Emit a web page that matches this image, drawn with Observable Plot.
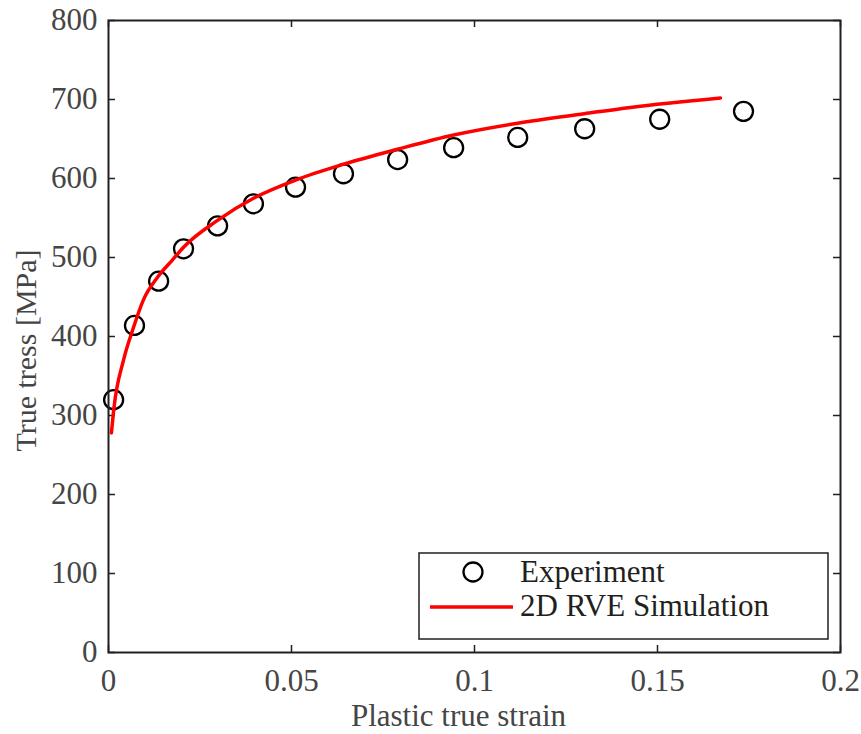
<!DOCTYPE html>
<html>
<head>
<meta charset="utf-8">
<script src="https://cdn.jsdelivr.net/npm/d3@7"></script>
<script src="https://cdn.jsdelivr.net/npm/@observablehq/plot@0.6"></script>
<style>
  html, body { margin: 0; padding: 0; background: #fff; }
  #chart { width: 861px; height: 734px; }
</style>
</head>
<body>
<div id="chart"></div>
<script>
// Experimental data (plastic true strain, true stress MPa)
const expStrain = [0.0014, 0.0071, 0.0137, 0.0205, 0.0298, 0.0396, 0.0511, 0.0642, 0.0790, 0.0943, 0.1118, 0.1301, 0.1506, 0.1735];
const expStress = [320, 414, 470, 511, 540, 568, 589, 606, 624, 639, 652, 663, 675, 685];

// 2D RVE simulation curve
const simStrain = [0.0008, 0.0015, 0.0041, 0.0068, 0.0096, 0.0134, 0.0175, 0.0205, 0.0298, 0.0396, 0.0511, 0.0642, 0.0790, 0.0943, 0.1118, 0.1300, 0.1426, 0.1672];
const simStress = [278, 310, 370, 411, 447, 475, 497, 513, 547, 575, 598, 618, 637, 655, 670, 682, 690, 702];

// Ticks
const xTicks = [0, 0.05, 0.1, 0.15, 0.2];
const xTickLabels = ["0", "0.05", "0.1", "0.15", "0.2"];
const yTicks = [0, 100, 200, 300, 400, 500, 600, 700, 800];
const yTickLabels = ["0", "100", "200", "300", "400", "500", "600", "700", "800"];

const xLabel = "Plastic true strain";
const yLabel = "True tress [MPa]";
const legendLabels = ["Experiment", "2D RVE Simulation"];

const expData = expStrain.map((x, i) => ({x, y: expStress[i]}));
const simData = simStrain.map((x, i) => ({x, y: simStress[i]}));

const W = 861, H = 734;
const mL = 108, mR = 21, mT = 20, mB = 82;
const fw = W - mL - mR, fh = H - mT - mB;
const tickLen = 7;
const frameColor = "#231f20";
const textColor = "#454545";
const fontFamily = "'Liberation Serif', 'Times New Roman', serif";

const fig = Plot.plot({
  width: W,
  height: H,
  marginLeft: mL,
  marginRight: mR,
  marginTop: mT,
  marginBottom: mB,
  x: {domain: [0, 0.2], axis: null},
  y: {domain: [0, 800], axis: null},
  style: {fontFamily, fontSize: "31px", background: "#fff", overflow: "visible"},
  marks: [
    // inward ticks on all four sides
    Plot.tickX(xTicks, {x: d => d, insetTop: fh - tickLen, stroke: frameColor, strokeWidth: 1.5}),
    Plot.tickX(xTicks, {x: d => d, insetBottom: fh - tickLen, stroke: frameColor, strokeWidth: 1.5}),
    Plot.tickY(yTicks, {y: d => d, insetRight: fw - tickLen, stroke: frameColor, strokeWidth: 1.5}),
    Plot.tickY(yTicks, {y: d => d, insetLeft: fw - tickLen, stroke: frameColor, strokeWidth: 1.5}),
    // tick labels
    Plot.text(xTicks, {x: d => d, frameAnchor: "bottom", dy: 29, text: (d, i) => xTickLabels[i],
      textAnchor: "middle", lineAnchor: "middle", fill: textColor, fontSize: 31}),
    Plot.text(yTicks, {y: d => d, frameAnchor: "left", dx: -11, text: (d, i) => yTickLabels[i],
      textAnchor: "end", lineAnchor: "middle", fill: textColor, fontSize: 31}),
    // axis labels
    Plot.text([xLabel], {frameAnchor: "bottom", dx: -16, dy: 64, text: d => d, textAnchor: "middle",
      lineAnchor: "middle", fill: textColor, fontSize: 31}),
    Plot.text([yLabel], {frameAnchor: "left", dx: -82, dy: 14, rotate: -90, text: d => d, textAnchor: "middle",
      lineAnchor: "middle", fill: textColor, fontSize: 30}),
    // data
    Plot.dot(expData, {x: "x", y: "y", r: 9.5, stroke: "#000", strokeWidth: 2.3, fill: "none"}),
    Plot.line(simData, {x: "x", y: "y", curve: "monotone-x", stroke: "#ff0000", strokeWidth: 3.5}),
    Plot.frame({stroke: frameColor, strokeWidth: 2})
  ]
});

document.getElementById("chart").appendChild(fig);

// Legend box (pixel layout inside the SVG)
const svg = d3.select(fig);
const lg = svg.append("g").attr("font-family", fontFamily).attr("font-size", 31).attr("text-anchor", "start");
lg.append("rect").attr("x", 419).attr("y", 553).attr("width", 409).attr("height", 86)
  .attr("fill", "#fff").attr("stroke", frameColor).attr("stroke-width", 1.5);
lg.append("circle").attr("cx", 473).attr("cy", 572).attr("r", 9.5)
  .attr("fill", "none").attr("stroke", "#000").attr("stroke-width", 2.3);
lg.append("line").attr("x1", 430).attr("x2", 513).attr("y1", 607).attr("y2", 607)
  .attr("stroke", "#ff0000").attr("stroke-width", 3.5);
lg.append("text").attr("x", 520).attr("y", 572).attr("dy", "0.33em").attr("fill", frameColor).text(legendLabels[0]);
lg.append("text").attr("x", 520).attr("y", 606).attr("dy", "0.33em").attr("fill", frameColor).text(legendLabels[1]);
</script>
</body>
</html>
